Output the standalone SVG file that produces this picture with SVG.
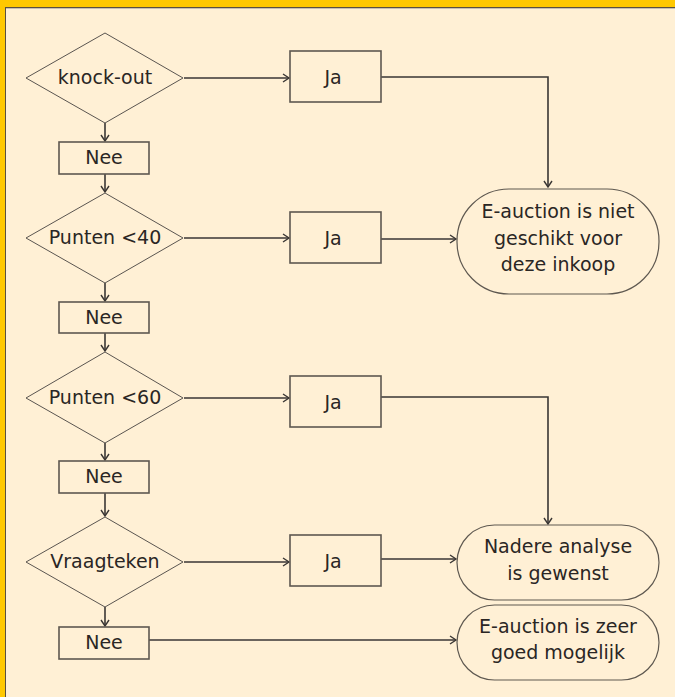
<svg xmlns="http://www.w3.org/2000/svg" width="675" height="697" viewBox="0 0 675 697">
<style>
.bg{fill:#FFF0D5}
.dia{fill:none;stroke:#5a5550;stroke-width:1}
.box{fill:none;stroke:#5e5850;stroke-width:1.6}
.end{fill:none;stroke:#5e5850;stroke-width:1.2}
.ln{fill:none;stroke:#3a3634;stroke-width:1.6}
text{font-family:"DejaVu Sans","Liberation Sans",sans-serif;font-size:19px;fill:#2a2624;text-anchor:middle}
</style>
<defs>
<marker id="arr" markerWidth="10" markerHeight="10" refX="7" refY="5" orient="auto" markerUnits="userSpaceOnUse">
<path d="M1,1 L7,5 L1,9" fill="none" stroke="#3a3634" stroke-width="1.4"/>
</marker>
</defs>
<rect class="bg" x="0" y="0" width="675" height="697"/>
<rect x="0" y="0" width="675" height="7" fill="#FFC800"/>
<rect x="0" y="0" width="5" height="697" fill="#FFC800"/>
<line x1="5" y1="7.5" x2="675" y2="7.5" stroke="#5a5040" stroke-width="1"/>
<line x1="5.5" y1="7" x2="5.5" y2="697" stroke="#5a5040" stroke-width="1"/>
<line x1="6" y1="8.5" x2="675" y2="8.5" stroke="#c8c0b0" stroke-width="1"/>

<g id="connectors">
<line class="ln" x1="105" y1="123" x2="105" y2="141" marker-end="url(#arr)"/>
<line class="ln" x1="105" y1="174" x2="105" y2="192" marker-end="url(#arr)"/>
<line class="ln" x1="105" y1="283" x2="105" y2="301" marker-end="url(#arr)"/>
<line class="ln" x1="105" y1="333" x2="105" y2="351" marker-end="url(#arr)"/>
<line class="ln" x1="105" y1="443" x2="105" y2="460" marker-end="url(#arr)"/>
<line class="ln" x1="105" y1="493" x2="105" y2="516" marker-end="url(#arr)"/>
<line class="ln" x1="105" y1="607" x2="105" y2="626" marker-end="url(#arr)"/>
<line class="ln" x1="184" y1="78" x2="289" y2="78" marker-end="url(#arr)"/>
<line class="ln" x1="184" y1="238" x2="289" y2="238" marker-end="url(#arr)"/>
<line class="ln" x1="184" y1="398" x2="289" y2="398" marker-end="url(#arr)"/>
<line class="ln" x1="184" y1="562" x2="289" y2="562" marker-end="url(#arr)"/>
<polyline class="ln" points="381,77 548,77 548,187" marker-end="url(#arr)"/>
<line class="ln" x1="381" y1="239" x2="456" y2="239" marker-end="url(#arr)"/>
<polyline class="ln" points="381,397 548,397 548,524" marker-end="url(#arr)"/>
<line class="ln" x1="381" y1="559" x2="456" y2="559" marker-end="url(#arr)"/>
<line class="ln" x1="149" y1="640" x2="456" y2="640" marker-end="url(#arr)"/>
</g>

<g id="d1"><polygon class="dia" points="105,33 183,78 105,123 26,78"/><text x="105" y="84">knock-out</text></g>
<g id="n1"><rect class="box" x="59" y="142" width="90" height="32"/><text x="104" y="164">Nee</text></g>
<g id="d2"><polygon class="dia" points="105,193 183,238 105,283 26,238"/><text x="105" y="244">Punten &lt;40</text></g>
<g id="n2"><rect class="box" x="59" y="302" width="90" height="31"/><text x="104" y="324">Nee</text></g>
<g id="d3"><polygon class="dia" points="105,352 183,398 105,443 26,398"/><text x="105" y="404">Punten &lt;60</text></g>
<g id="n3"><rect class="box" x="59" y="461" width="90" height="32"/><text x="104" y="483">Nee</text></g>
<g id="d4"><polygon class="dia" points="105,517 183,562 105,607 26,562"/><text x="105" y="568">Vraagteken</text></g>
<g id="n4"><rect class="box" x="59" y="627" width="90" height="32"/><text x="104" y="649">Nee</text></g>

<g id="j1"><rect class="box" x="290" y="51" width="91" height="51"/><text x="333" y="84">Ja</text></g>
<g id="j2"><rect class="box" x="290" y="212" width="91" height="51"/><text x="333" y="245">Ja</text></g>
<g id="j3"><rect class="box" x="290" y="376" width="91" height="51"/><text x="333" y="409">Ja</text></g>
<g id="j4"><rect class="box" x="290" y="535" width="91" height="51"/><text x="333" y="568">Ja</text></g>

<g id="e1"><rect class="end" x="457" y="189" width="202" height="105" rx="52" ry="52"/>
<text x="558" y="218">E-auction is niet</text><text x="558" y="245">geschikt voor</text><text x="558" y="271">deze inkoop</text></g>
<g id="e2"><rect class="end" x="457" y="525" width="202" height="75" rx="37.5" ry="37.5"/>
<text x="558" y="553">Nadere analyse</text><text x="558" y="580">is gewenst</text></g>
<g id="e3"><rect class="end" x="457" y="605" width="202" height="75" rx="37.5" ry="37.5"/>
<text x="558" y="633">E-auction is zeer</text><text x="558" y="659">goed mogelijk</text></g>
</svg>
